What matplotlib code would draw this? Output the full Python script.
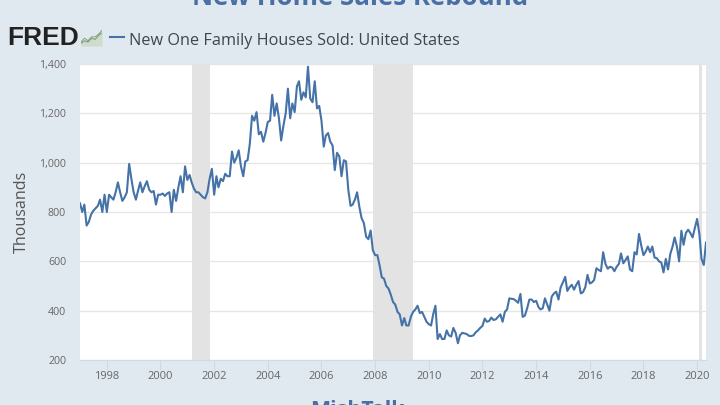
# New one family houses sold, FRED style chart
import matplotlib
matplotlib.use('Agg')
import matplotlib.pyplot as plt
import matplotlib.dates as mdates
import pandas as pd

# monthly values, thousands, Jan 1997 to May 2020
sales = [
    835, 800, 830, 745, 760, 790, 805, 815, 825, 850, 800, 870,
    800, 870, 860, 850, 880, 920, 880, 845, 860, 880, 995, 935,
    880, 850, 885, 920, 880, 905, 925, 890, 880, 885, 830, 870,
    870, 875, 865, 875, 880, 800, 890, 845, 900, 945, 880, 985,
    930, 950, 920, 895, 880, 880, 870, 860, 855, 880, 935, 975,
    870, 945, 900, 935, 925, 955, 945, 945, 1045, 1000, 1020, 1050,
    985, 945, 1005, 1010, 1075, 1190, 1170, 1205, 1115, 1125, 1085, 1120,
    1165, 1170, 1275, 1190, 1240, 1180, 1090, 1150, 1200, 1300, 1180, 1240,
    1205, 1310, 1330, 1255, 1285, 1265, 1389, 1260, 1245, 1330, 1220, 1230,
    1170, 1065, 1110, 1120, 1085, 1070, 970, 1040, 1025, 945, 1010, 1005,
    890, 825, 830, 850, 880, 820, 775, 755, 700, 690, 725, 645,
    625, 625, 585, 535, 530, 500, 490, 465, 435, 425, 395, 385,
    340, 370, 340, 340, 375, 395, 405, 420, 390, 395, 375, 355,
    345, 340, 385, 420, 285, 305, 285, 285, 320, 300, 295, 330,
    310, 268, 300, 310, 308, 305, 298, 297, 300, 312, 320, 330,
    338, 368, 355, 358, 372, 362, 365, 375, 385, 355, 395, 405,
    450, 448, 447, 440, 432, 468, 375, 380, 410, 445, 445, 435,
    440, 415, 405, 410, 450, 425, 400, 457, 470, 477, 445, 495,
    515, 537, 480, 495, 505, 485, 505, 520, 470, 475, 495, 545,
    510, 515, 525, 572, 565, 560, 637, 590, 570, 578, 575, 560,
    578, 590, 632, 592, 605, 620, 567, 560, 637, 628, 711, 665,
    625, 640, 660, 637, 660, 615, 613, 600, 595, 555, 610, 567,
    630, 660, 697, 660, 600, 724, 667, 715, 728, 715, 697, 735,
    772, 710, 610, 585, 676,
]
months = pd.date_range('1997-01-01', periods=len(sales), freq='MS')

# recession bands
recession_start = ['2001-03-01', '2007-12-01', '2020-02-01']
recession_end = ['2001-11-01', '2009-06-01', '2020-03-01']

y_ticks = [200, 400, 600, 800, 1000, 1200, 1400]
x_years = list(range(1998, 2021, 2))

# little chart beside the logo
icon_x = [0, 1, 2, 3, 4, 5, 6]
icon_green = [1, 2, 1.5, 3, 2.5, 4, 5]
icon_blue = [1.5, 3, 2, 3.5, 3.5, 4.5, 6]

bg = '#e1e9f0'
blue = '#4572a7'
title_blue = '#4a6fa5'
grey_text = '#666666'

plt.rcParams['font.family'] = ['Open Sans', 'DejaVu Sans']

fig = plt.figure(figsize=(7.2, 4.05), dpi=100, facecolor=bg)
ax = fig.add_axes([80 / 720, 1 - 360 / 405, (706 - 80) / 720, (360 - 64) / 405])
ax.set_facecolor('white')

for a, b in zip(recession_start, recession_end):
    ax.axvspan(pd.Timestamp(a), pd.Timestamp(b), color='#e3e3e3', lw=0, zorder=1)

ax.plot(months, sales, color=blue, linewidth=1.5, zorder=3)

ax.set_xlim(pd.Timestamp('1997-01-01'), pd.Timestamp('2020-05-01'))
ax.set_ylim(200, 1400)
ax.set_yticks(y_ticks)
ax.set_yticklabels(['{:,}'.format(v) for v in y_ticks])
ax.set_xticks([pd.Timestamp(str(y) + '-01-01') for y in x_years])
ax.xaxis.set_major_formatter(mdates.DateFormatter('%Y'))
ax.grid(axis='y', color='#e6e6e6', linewidth=1, zorder=2)
ax.set_axisbelow(True)

ax.tick_params(axis='y', length=0, labelsize=7.7, labelcolor=grey_text, pad=10)
ax.tick_params(axis='x', length=7, width=0.8, color='#d0dae4', labelsize=8,
               labelcolor=grey_text, pad=1)
for s in ax.spines.values():
    s.set_visible(False)
ax.spines['bottom'].set_visible(True)
ax.spines['bottom'].set_color('#d0dae4')

fig.text(22 / 720, 1 - 212 / 405, 'Thousands', rotation=90, fontsize=11.6,
         color='#555555', ha='center', va='center')

# legend row
fig.add_artist(plt.Line2D([110 / 720, 124 / 720], [1 - 36.5 / 405, 1 - 36.5 / 405],
                          color=blue, linewidth=1.5))
fig.text(129 / 720, 1 - 41 / 405, 'New One Family Houses Sold: United States',
         fontsize=11.7, color='#3d4550', ha='left', va='center')

# logo
fig.text(7 / 720, 1 - 38 / 405, 'FRED', fontsize=19, fontweight='bold',
         family=['Liberation Sans', 'DejaVu Sans'], color='#222222', ha='left', va='center')
icon = fig.add_axes([81 / 720, 1 - 46 / 405, 21 / 720, 17 / 405])
icon.fill_between(icon_x, icon_green, color='#cfdccb', lw=0)
icon.plot(icon_x, icon_blue, color='#8fa886', linewidth=0.8)
icon.plot(icon_x, icon_green, color='#7c9a70', linewidth=0.8)
icon.set_xlim(0, 6)
icon.set_ylim(0, 6.5)
icon.axis('off')

# headline and footer, both cut off by the image edge
fig.text(360 / 720, 1 - 5 / 405, 'New Home Sales Rebound', fontsize=18.6, fontweight='bold',
         color=title_blue, ha='center', va='baseline')
fig.text(357 / 720, 1 - 416 / 405, 'MishTalk', fontsize=15.4, fontweight='bold',
         color=title_blue, ha='center', va='baseline')

fig.savefig('out.png', dpi=100, facecolor=bg)
